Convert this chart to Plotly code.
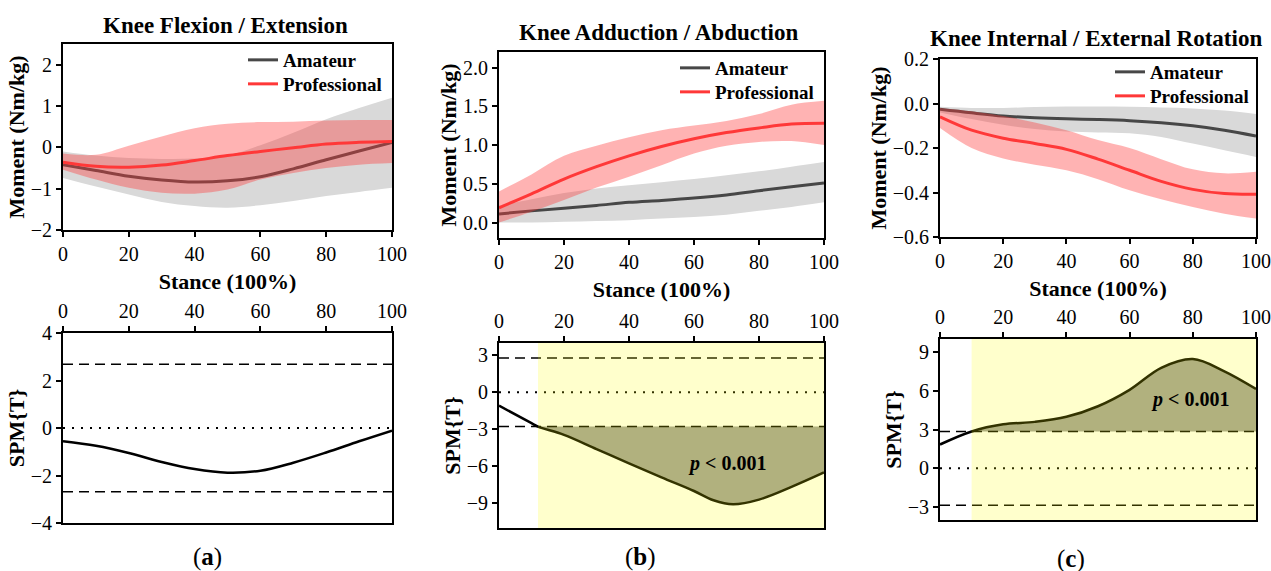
import plotly.graph_objects as go

W, H = 1271, 571
SERIF = "Liberation Serif"

# Stance phase (% of stance)
STANCE = [0, 10, 20, 30, 40, 50, 60, 70, 80, 90, 100]

# Knee flexion / extension moment (Nm/kg)
flex_am_mean = [-0.42, -0.56, -0.70, -0.79, -0.84, -0.81, -0.71, -0.52, -0.30, -0.09, 0.12]
flex_am_hi = [-0.10, -0.20, -0.26, -0.28, -0.27, -0.20, 0.05, 0.35, 0.68, 0.95, 1.20]
flex_am_lo = [-0.74, -0.95, -1.14, -1.32, -1.42, -1.46, -1.40, -1.30, -1.18, -1.08, -0.98]
flex_pro_mean = [-0.36, -0.46, -0.48, -0.43, -0.32, -0.20, -0.10, -0.01, 0.08, 0.12, 0.14]
flex_pro_hi = [-0.15, -0.18, 0.04, 0.26, 0.46, 0.57, 0.61, 0.62, 0.65, 0.66, 0.66]
flex_pro_lo = [-0.54, -0.78, -0.98, -1.10, -1.12, -1.02, -0.78, -0.62, -0.50, -0.42, -0.38]

# Knee adduction / abduction moment (Nm/kg)
add_am_mean = [0.11, 0.15, 0.185, 0.22, 0.26, 0.285, 0.315, 0.355, 0.41, 0.46, 0.51]
add_am_hi = [0.22, 0.30, 0.38, 0.44, 0.48, 0.52, 0.56, 0.61, 0.66, 0.72, 0.78]
add_am_lo = [0.0, 0.0, 0.01, 0.02, 0.03, 0.05, 0.07, 0.10, 0.15, 0.20, 0.26]
add_pro_mean = [0.19, 0.37, 0.56, 0.72, 0.86, 0.98, 1.08, 1.16, 1.22, 1.27, 1.28]
add_pro_hi = [0.40, 0.62, 0.86, 0.99, 1.10, 1.19, 1.25, 1.31, 1.40, 1.52, 1.57]
add_pro_lo = [0.0, 0.14, 0.29, 0.45, 0.59, 0.74, 0.89, 0.99, 1.04, 1.05, 1.00]

# Knee internal / external rotation moment (Nm/kg)
rot_am_mean = [-0.026, -0.042, -0.056, -0.064, -0.069, -0.072, -0.077, -0.086, -0.10, -0.12, -0.146]
rot_am_hi = [-0.015, -0.02, -0.02, -0.016, -0.014, -0.014, -0.015, -0.018, -0.022, -0.032, -0.047]
rot_am_lo = [-0.04, -0.07, -0.096, -0.115, -0.126, -0.13, -0.134, -0.15, -0.18, -0.21, -0.24]
rot_pro_mean = [-0.06, -0.12, -0.156, -0.18, -0.206, -0.25, -0.30, -0.35, -0.386, -0.405, -0.408]
rot_pro_hi = [-0.02, -0.035, -0.056, -0.085, -0.12, -0.164, -0.20, -0.25, -0.296, -0.314, -0.307]
rot_pro_lo = [-0.11, -0.20, -0.247, -0.275, -0.30, -0.34, -0.39, -0.43, -0.465, -0.495, -0.517]

# SPM{t} trajectories and critical thresholds
spm_flex_x = STANCE
spm_flex_t = [-0.56, -0.75, -1.05, -1.43, -1.73, -1.88, -1.80, -1.46, -1.03, -0.56, -0.11]
spm_flex_crit = 2.68

spm_add_x = [0, 10, 12, 20, 30, 40, 50, 60, 66, 72, 80, 90, 100]
spm_add_t = [-1.08, -2.5, -2.78, -3.45, -4.6, -5.76, -6.9, -8.0, -8.75, -9.08, -8.7, -7.67, -6.5]
spm_add_crit = 2.78
spm_add_start = 12

spm_rot_x = STANCE
spm_rot_t = [1.84, 2.85, 3.4, 3.59, 3.98, 4.8, 6.07, 7.77, 8.45, 7.5, 6.13]
spm_rot_crit = 2.85
spm_rot_start = 10

GROUPS = ["Amateur", "Professional"]
TITLES = ["Knee Flexion / Extension", "Knee Adduction / Abduction",
          "Knee Internal / External Rotation"]
PANEL_TAGS = ["a", "b", "c"]

GRAY_BAND = "rgb(217,217,217)"
RED_BAND = "rgba(255,55,55,0.38)"
AM_LINE = "#474747"
PRO_LINE = "#ff3838"

fig = go.Figure()


def band(x, lo, hi, color, n):
    fig.add_trace(go.Scatter(x=x, y=hi, mode="lines", line=dict(width=0, shape="spline"),
                             showlegend=False, hoverinfo="skip",
                             xaxis=f"x{n}", yaxis=f"y{n}"))
    fig.add_trace(go.Scatter(x=x, y=lo, mode="lines", line=dict(width=0, shape="spline"),
                             fill="tonexty", fillcolor=color, showlegend=False,
                             hoverinfo="skip", xaxis=f"x{n}", yaxis=f"y{n}"))


def mean_line(x, y, color, name, n, legend):
    fig.add_trace(go.Scatter(x=x, y=y, mode="lines", name=name,
                             line=dict(color=color, width=3, shape="spline"),
                             legend=legend, xaxis=f"x{n}", yaxis=f"y{n}"))


top_data = [
    (flex_am_mean, flex_am_lo, flex_am_hi, flex_pro_mean, flex_pro_lo, flex_pro_hi),
    (add_am_mean, add_am_lo, add_am_hi, add_pro_mean, add_pro_lo, add_pro_hi),
    (rot_am_mean, rot_am_lo, rot_am_hi, rot_pro_mean, rot_pro_lo, rot_pro_hi),
]
# one legend box per entry so each label sits exactly where it should
legend_ids = [("legend", "legend2"), ("legend3", "legend4"), ("legend5", "legend6")]

for i, (am_m, am_lo, am_hi, pr_m, pr_lo, pr_hi) in enumerate(top_data):
    n = i + 1
    band(STANCE, am_lo, am_hi, GRAY_BAND, n)
    mean_line(STANCE, am_m, AM_LINE, GROUPS[0], n, legend_ids[i][0])
    band(STANCE, pr_lo, pr_hi, RED_BAND, n)
    mean_line(STANCE, pr_m, PRO_LINE, GROUPS[1], n, legend_ids[i][1])

spm_data = [
    (spm_flex_x, spm_flex_t, spm_flex_crit, None),
    (spm_add_x, spm_add_t, spm_add_crit, spm_add_start),
    (spm_rot_x, spm_rot_t, spm_rot_crit, spm_rot_start),
]

CLUSTER_FILL = "rgb(158,158,158)"

for i, (sx, st, crit, start) in enumerate(spm_data):
    n = i + 4
    xa, ya = f"x{n}", f"y{n}"
    if start is not None:
        # supra-threshold cluster
        cx = [v for v in sx if v >= start]
        cy = [t for v, t in zip(sx, st) if v >= start]
        level = -crit if cy[-1] < 0 else crit
        fig.add_trace(go.Scatter(x=[cx[0], cx[-1]], y=[level, level], mode="lines",
                                 line=dict(width=0), showlegend=False, hoverinfo="skip",
                                 xaxis=xa, yaxis=ya))
        fig.add_trace(go.Scatter(x=cx, y=cy, mode="lines", line=dict(width=0, shape="spline"),
                                 fill="tonexty", fillcolor=CLUSTER_FILL, showlegend=False,
                                 hoverinfo="skip", xaxis=xa, yaxis=ya))
    for lvl in (crit, -crit):
        fig.add_trace(go.Scatter(x=[0, 100], y=[lvl, lvl], mode="lines",
                                 line=dict(color="black", width=1.5, dash="10px,6px"),
                                 showlegend=False, hoverinfo="skip", xaxis=xa, yaxis=ya))
    fig.add_trace(go.Scatter(x=[0, 100], y=[0, 0], mode="lines",
                             line=dict(color="black", width=2, dash="2px,7px"),
                             showlegend=False, hoverinfo="skip", xaxis=xa, yaxis=ya))
    fig.add_trace(go.Scatter(x=sx, y=st, mode="lines",
                             line=dict(color="black", width=2.5, shape="spline"),
                             showlegend=False, hoverinfo="skip", xaxis=xa, yaxis=ya))
    if start is not None:
        fig.add_shape(type="rect", xref=xa, yref=f"{ya} domain", x0=start, x1=100,
                      y0=0, y1=1, fillcolor="rgba(255,255,0,0.2)",
                      line=dict(width=0), layer="above")


def fx(p):
    return p / W


def fy(p):
    return 1 - p / H


top_box = [(63, 392, 44, 230), (499, 824, 52, 238), (940, 1256, 59, 237)]
bot_box = [(63, 392, 333, 523), (499, 824, 343, 528), (940, 1256, 339, 520)]

top_yrange = [[-2, 2.5], [-0.2, 2.2], [-0.6, 0.2]]
top_ytick = [dict(tickvals=[-2, -1, 0, 1, 2]),
             dict(tickvals=[0, 0.5, 1.0, 1.5, 2.0], tickformat=".1f"),
             dict(tickvals=[-0.6, -0.4, -0.2, 0.0, 0.2], tickformat=".1f")]
bot_yrange = [[-4, 4], [-11, 4], [-4, 10]]
bot_ytick = [[-4, -2, 0, 2, 4], [-9, -6, -3, 0, 3], [-3, 0, 3, 6, 9]]

tick_font = dict(family=SERIF, size=20, color="black")
title_font = dict(family=SERIF, size=22, color="black", weight="bold")

common = dict(showline=True, linecolor="black", linewidth=2, mirror=True,
              ticks="outside", ticklen=5, tickwidth=2, tickcolor="black",
              showgrid=False, zeroline=False, tickfont=tick_font, automargin=False)

layout = {}
for i in range(3):
    x0, x1, y0, y1 = top_box[i]
    n = i + 1
    sfx = "" if n == 1 else str(n)
    layout[f"xaxis{sfx}"] = dict(common, domain=[fx(x0), fx(x1)], range=[0, 100],
                                 tickvals=[0, 20, 40, 60, 80, 100], anchor=f"y{n}",
                                 title=dict(text="Stance (100%)", font=title_font, standoff=10))
    layout[f"yaxis{sfx}"] = dict(common, domain=[fy(y1), fy(y0)], range=top_yrange[i],
                                 anchor=f"x{n}",
                                 title=dict(text="Moment (Nm/kg)", font=title_font, standoff=0),
                                 **top_ytick[i])
    x0, x1, y0, y1 = bot_box[i]
    n = i + 4
    layout[f"xaxis{n}"] = dict(common, domain=[fx(x0), fx(x1)], range=[0, 100], side="top",
                               tickvals=[0, 20, 40, 60, 80, 100], anchor=f"y{n}")
    layout[f"yaxis{n}"] = dict(common, domain=[fy(y1), fy(y0)], range=bot_yrange[i],
                               anchor=f"x{n}", tickvals=bot_ytick[i],
                               title=dict(text="SPM{T}", font=title_font, standoff=0))

# legend box top-left corners (px): Amateur / Professional per panel
legend_pos = [[(243, 41), (243, 65)], [(675, 49), (675, 73)], [(1110, 53), (1110, 77)]]
for i in range(3):
    for j in range(2):
        lx, ly = legend_pos[i][j]
        layout[legend_ids[i][j]] = dict(
            x=fx(lx), y=fy(ly), xanchor="left", yanchor="top",
            bgcolor="rgba(0,0,0,0)", borderwidth=0, traceorder="normal",
            font=dict(family=SERIF, size=19, color="black", weight="bold"))

annotations = []
title_pos = [(225, 25), (659, 33), (1096, 39)]
for (tx, ty), t in zip(title_pos, TITLES):
    annotations.append(dict(text=t, x=fx(tx), y=fy(ty), xref="paper", yref="paper",
                            showarrow=False, xanchor="center", yanchor="middle",
                            font=dict(title_font, size=23)))
tag_pos = [(207, 557), (640, 557), (1071, 559)]
for (tx, ty), t in zip(tag_pos, PANEL_TAGS):
    annotations.append(dict(text=f"(<b>{t}</b>)", x=fx(tx), y=fy(ty), xref="paper",
                            yref="paper", showarrow=False, xanchor="center",
                            yanchor="middle", font=dict(family=SERIF, size=25, color="black")))
# cluster p-values
annotations.append(dict(text="<b><i>p</i> < 0.001</b>", x=70, y=-5.8, xref="x5", yref="y5",
                        showarrow=False, font=dict(family=SERIF, size=20, color="black")))
annotations.append(dict(text="<b><i>p</i> < 0.001</b>", x=79, y=5.3, xref="x6", yref="y6",
                        showarrow=False, font=dict(family=SERIF, size=20, color="black")))

fig.update_layout(width=W, height=H, margin=dict(l=0, r=0, t=0, b=0),
                  paper_bgcolor="white", plot_bgcolor="white",
                  annotations=annotations, **layout)

fig.write_html("out.html")
